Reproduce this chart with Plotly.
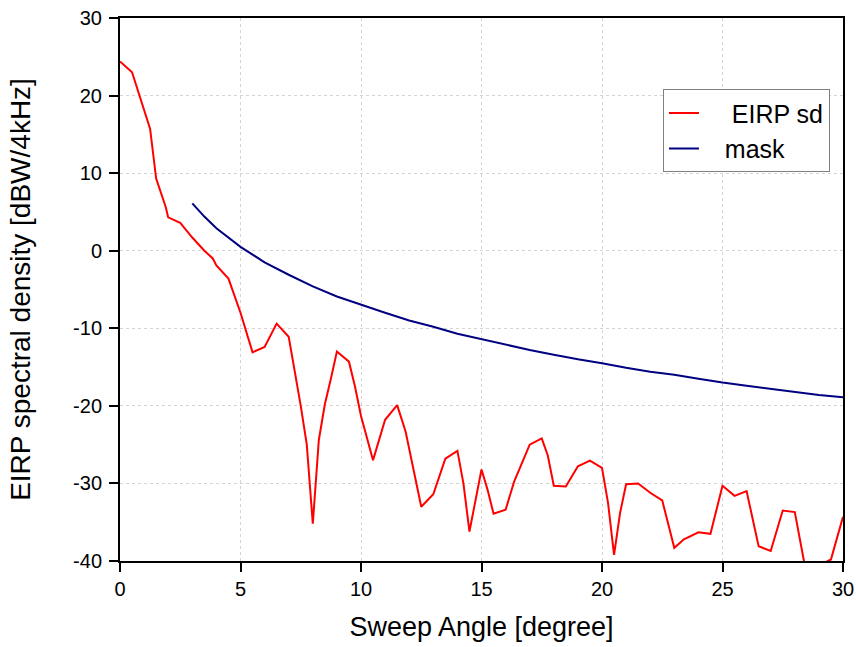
import plotly.graph_objects as go

# EIRP spectral density (red)
eirp_angle = [0, 0.5, 1.25, 1.5, 1.9, 2.0, 2.5, 3.0, 3.5, 3.85, 4.0, 4.5, 5.0, 5.3, 5.5,
              6.0, 6.5, 7.0, 7.25, 7.5, 7.75, 8.0, 8.25, 8.5, 8.75, 9.0, 9.5, 9.75, 10.0,
              10.5, 11.0, 11.5, 11.85, 12.2, 12.5, 13.0, 13.5, 14.0, 14.25, 14.5, 15.0,
              15.25, 15.5, 16.0, 16.35, 17.0, 17.5, 17.75, 18.0, 18.5, 19.0, 19.5, 20.0,
              20.25, 20.5, 20.75, 21.0, 21.5, 22.0, 22.5, 23.0, 23.4, 24.0, 24.5, 25.0,
              25.5, 26.0, 26.5, 27.0, 27.5, 28.0, 28.5, 29.0, 29.25, 29.5, 30.0]
eirp_sd = [24.4, 23.0, 15.7, 9.3, 5.6, 4.3, 3.6, 1.7, 0.0, -1.0, -1.9, -3.6, -8.0, -10.9, -13.1,
           -12.4, -9.4, -11.1, -15.3, -20.0, -25.0, -35.2, -24.4, -19.8, -16.5, -13.0, -14.3, -17.5, -21.3,
           -27.0, -21.8, -19.9, -23.3, -28.5, -33.0, -31.4, -26.8, -25.8, -30.0, -36.2, -28.2,
           -30.8, -33.9, -33.4, -29.8, -25.0, -24.2, -26.4, -30.3, -30.4, -27.8, -27.05, -28.0,
           -32.5, -39.2, -33.8, -30.1, -30.0, -31.2, -32.2, -38.3, -37.2, -36.3, -36.5, -30.3,
           -31.6, -31.0, -38.1, -38.7, -33.5, -33.7, -42.0, -41.0, -40.2, -39.8, -34.3]

# Mask (navy)
mask_angle = [3, 3.5, 4, 4.5, 5, 5.5, 6, 7, 8, 9, 10, 11, 12, 13, 14, 15, 16, 17, 18,
              19, 20, 21, 22, 23, 24, 25, 26, 27, 28, 29, 30]
mask_val = [6.1, 4.4, 2.9, 1.7, 0.5, -0.5, -1.5, -3.1, -4.6, -5.9, -7.0, -8.0, -9.0, -9.8,
            -10.7, -11.4, -12.1, -12.8, -13.4, -14.0, -14.5, -15.1, -15.6, -16.0, -16.5,
            -17.0, -17.4, -17.8, -18.2, -18.6, -18.9]

x_ticks = [0, 5, 10, 15, 20, 25, 30]
x_tick_labels = ["0", "5", "10", "15", "20", "25", "30"]
y_ticks = [-40, -30, -20, -10, 0, 10, 20, 30]
y_tick_labels = ["-40", "-30", "-20", "-10", "0", "10", "20", "30"]

FONT = "Liberation Sans, Arial, sans-serif"
NB = "\u00a0"

fig = go.Figure()
fig.add_trace(go.Scatter(x=eirp_angle, y=eirp_sd, mode="lines", name=NB * 4 + "EIRP sd",
                         line=dict(color="#ff0000", width=2)))
fig.add_trace(go.Scatter(x=mask_angle, y=mask_val, mode="lines", name=NB * 3 + "mask",
                         line=dict(color="#000080", width=2)))

axis_common = dict(
    showline=True, linecolor="black", linewidth=2, mirror=True,
    ticks="outside", ticklen=9, tickwidth=2, tickcolor="black",
    showgrid=True, gridcolor="#d4d4d4", gridwidth=1, griddash="dot",
    zeroline=False, automargin=False,
    tickfont=dict(family=FONT, size=20, color="black"),
)

fig.update_xaxes(range=[0, 30], tickvals=x_ticks, ticktext=x_tick_labels,
                 title=dict(text="Sweep Angle [degree]", font=dict(family=FONT, size=27, color="black"),
                            standoff=18),
                 **axis_common)
fig.update_yaxes(range=[-40, 30], tickvals=y_ticks, ticktext=y_tick_labels,
                 ticklabelstandoff=3,
                 title=dict(text="EIRP spectral density [dBW/4kHz]",
                            font=dict(family=FONT, size=28, color="black"), standoff=34),
                 **axis_common)

fig.update_layout(
    width=856, height=647,
    margin=dict(l=120, r=13, t=18, b=86),
    paper_bgcolor="white", plot_bgcolor="white",
    showlegend=True,
    legend=dict(x=0.751, y=0.869, xanchor="left", yanchor="top",
                bgcolor="white", bordercolor="#808080", borderwidth=1,
                font=dict(family=FONT, size=25, color="black"),
                tracegroupgap=0, itemwidth=30),
)

fig.write_html("out.html", config={"displayModeBar": False},
               post_script="document.body.style.margin='0';document.body.style.overflow='hidden';")
